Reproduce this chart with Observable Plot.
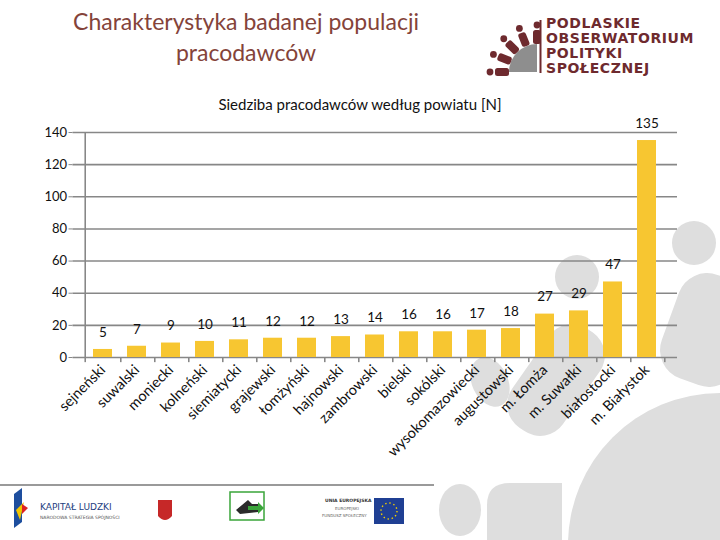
<!DOCTYPE html>
<html>
<head>
<meta charset="utf-8">
<script src="https://cdn.jsdelivr.net/npm/d3@7"></script>
<script src="https://cdn.jsdelivr.net/npm/@observablehq/plot@0.6"></script>
<style>
  html, body { margin: 0; padding: 0; background: #fff; }
  #page { position: relative; width: 720px; height: 540px; overflow: hidden; font-family: Lato, "Open Sans", sans-serif; }
  #bg { position: absolute; left: 0; top: 0; }
  #title { position: absolute; left: 30px; width: 432px; top: 6px; text-align: center; color: #84433a; font-size: 23px; line-height: 31px; }
  #subtitle { position: absolute; left: 0; width: 720px; top: 95px; text-align: center; font-size: 15px; color: #111; }
  #chart { position: absolute; left: 0; top: 95px; }
  #footer { position: absolute; left: 0; top: 480px; }
</style>
</head>
<body>
<div id="page">
  <svg id="bg" width="720" height="540">
    <g fill="#dedede">
      <circle cx="577" cy="277" r="22"/>
      <rect x="525" y="320" width="62" height="120" rx="28" transform="rotate(35 556 380)"/>
      <ellipse cx="490" cy="382" rx="18" ry="26" transform="rotate(-25 490 382)"/>
      <circle cx="694" cy="243" r="22"/>
      <rect x="668" y="275" width="80" height="110" rx="30" transform="rotate(20 708 330)"/>
      <circle cx="720" cy="545" r="152"/>
      <ellipse cx="460" cy="510" rx="21" ry="26"/>
      <path d="M487 540 L487 505 Q487 483 510 483 L562 483 L562 540 Z"/>
    </g>
    <line x1="0" y1="485" x2="434" y2="485" stroke="#9a9a9a" stroke-width="2"/>
    <!-- logo -->
    <g id="logo">
      <path d="M537 72 L537 44 A28 28 0 0 0 509 72 Z" fill="#8e8e8e"/>
      <rect x="539.5" y="20" width="2" height="53" fill="#6e2a2e"/>
      <g fill="#6e2a2e" id="figs"></g>
      <g font-family="'DejaVu Sans', sans-serif" font-weight="bold" font-size="14" fill="#6e2a2e" style="letter-spacing:0.6px">
        <text x="546" y="28">PODLASKIE</text>
        <text x="546" y="43">OBSERWATORIUM</text>
        <text x="546" y="58">POLITYKI</text>
        <text x="546" y="73">SPOŁECZNEJ</text>
      </g>
    </g>
  </svg>
  <div id="title">Charakterystyka badanej populacji<br>pracodawców</div>
  <svg id="footer" width="440" height="60">
    <polygon points="14,14 22,8 22,42 14,48" fill="#1d4e9e"/>
    <polygon points="16,30 24,22 20,40" fill="#f2c500"/>
    <polygon points="22,24 28,28 22,34" fill="#d22"/>
    <text x="40" y="30" font-size="9" fill="#1d3e7e" font-family="'DejaVu Sans', sans-serif">KAPITAŁ LUDZKI</text>
    <text x="40" y="39" font-size="4.5" fill="#555" font-family="'DejaVu Sans', sans-serif">NARODOWA STRATEGIA SPÓJNOŚCI</text>
    <path d="M158 20 L172 20 L172 36 Q165 44 158 36 Z" fill="#c62828"/>
    <rect x="230" y="12" width="34" height="28" fill="#fff" stroke="#3aa53a" stroke-width="1.5"/>
    <path d="M236 30 L248 20 L252 24 L258 24 L258 32 L240 34 Z" fill="#2b2b2b"/>
    <path d="M248 26 L258 26 L258 22 L264 28 L258 34 L258 30 L248 30 Z" fill="#3aa53a"/>
    <text x="325" y="22" font-size="4.5" font-weight="bold" fill="#333" font-family="'DejaVu Sans', sans-serif">UNIA EUROPEJSKA</text>
    <text x="335" y="30" font-size="4" fill="#666" font-family="'DejaVu Sans', sans-serif">EUROPEJSKI</text>
    <text x="322" y="37" font-size="4" fill="#666" font-family="'DejaVu Sans', sans-serif">FUNDUSZ SPOŁECZNY</text>
    <rect x="374" y="18" width="30" height="26" fill="#1f3f93"/>
    <circle cx="389" cy="31" r="8" fill="none" stroke="#f4d000" stroke-width="1.4" stroke-dasharray="1.4 2.8"/>
  </svg>
  <div id="subtitle">Siedziba pracodawców według powiatu [N]</div>
  <div id="chart"></div>
</div>
<script>
const categories = ["sejneński","suwalski","moniecki","kolneński","siemiatycki","grajewski","łomżyński","hajnowski","zambrowski","bielski","sokólski","wysokomazowiecki","augustowski","m. Łomża","m. Suwałki","białostocki","m. Białystok"];
const values = [5,7,9,10,11,12,12,13,14,16,16,17,18,27,29,47,135];
const yTicks = [0,20,40,60,80,100,120,140];

// decorative logo figures (arc of small people)
(function () {
  const g = document.getElementById("figs");
  const cx = 537, cy = 72;
  [90, 112, 135, 158, 180].forEach(a => {
    const t = a * Math.PI / 180;
    const hx = cx + 47 * Math.cos(t), hy = cy - 47 * Math.sin(t);
    const bx = cx + 35 * Math.cos(t), by = cy - 35 * Math.sin(t);
    const ns = "http://www.w3.org/2000/svg";
    const c = document.createElementNS(ns, "circle");
    c.setAttribute("cx", hx); c.setAttribute("cy", hy); c.setAttribute("r", 3.4);
    g.appendChild(c);
    const r = document.createElementNS(ns, "rect");
    r.setAttribute("x", bx - 4); r.setAttribute("y", by - 7);
    r.setAttribute("width", 8); r.setAttribute("height", 14); r.setAttribute("rx", 2.5);
    r.setAttribute("transform", `rotate(${90 - a} ${bx} ${by})`);
    g.appendChild(r);
  });
})();

const data = categories.map((c, i) => ({category: c, value: values[i]}));
const width = 720, height = 400;
const mL = 72.5, mR = 43;
const step = (width - mL - mR) / categories.length;

const chart = Plot.plot({
  width, height,
  marginLeft: mL, marginRight: mR, marginTop: 37, marginBottom: 138,
  style: {background: "transparent", fontFamily: "Lato, 'Open Sans', sans-serif", fontSize: "13px", color: "#111"},
  x: {domain: categories, padding: 0.45, label: null},
  y: {domain: [0, 140], label: null},
  marks: [
    Plot.ruleY(yTicks, {stroke: "#878787", strokeWidth: 1.6}),
    Plot.ruleX([categories[0]], {y1: 0, y2: 140, dx: -step / 2, stroke: "#878787", strokeWidth: 1.6}),
    Plot.ruleX(categories, {y1: 0, y2: -3.2, dx: step / 2, stroke: "#878787", strokeWidth: 1.6}),
    Plot.ruleX([categories[0]], {y1: 0, y2: -3.2, dx: -step / 2, stroke: "#878787", strokeWidth: 1.6}),
    Plot.barY(data, {x: "category", y: "value", fill: "#f7c631"}),
    Plot.text(data, {x: "category", y: "value", text: d => String(d.value), dy: -17, fontSize: 13.5, fill: "#111"}),
    Plot.axisY({ticks: yTicks, tickSize: 4, tickPadding: 2, fontSize: 13, stroke: "#878787"}),
    Plot.axisX({tickSize: 0, tickRotate: -45, tickPadding: 10, fontSize: 14.5, textAnchor: "end"})
  ]
});
document.getElementById("chart").appendChild(chart);
</script>
</body>
</html>
